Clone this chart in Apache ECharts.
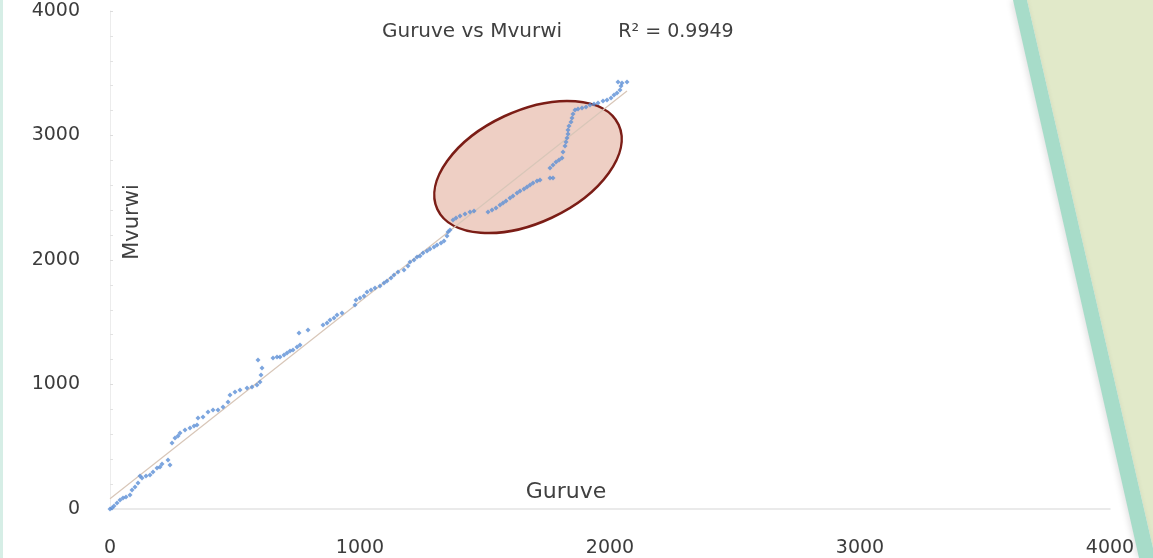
<!DOCTYPE html>
<html>
<head>
<meta charset="utf-8">
<title>Guruve vs Mvurwi</title>
<script src="https://cdn.jsdelivr.net/npm/echarts@6/dist/echarts.min.js"></script>
<style>
  html, body { margin: 0; padding: 0; background: #ffffff; }
  #chart { width: 1153px; height: 558px; }
</style>
</head>
<body>
<div id="chart"></div>
<script>
// Paired readings: Guruve (x) against Mvurwi (y)
const guruve = [
  0, 8, 16, 28, 40, 52, 64, 80, 88, 100, 112, 120, 128, 144, 160, 172, 188, 200, 208, 232,
  240, 248, 260, 272, 280, 300, 320, 336, 348, 352, 372, 392, 412, 432, 452, 472, 480, 500, 520, 548,
  568, 588, 600, 604, 592, 608, 652, 668, 680, 696, 708, 720, 732, 748, 760, 756, 792, 852, 868, 880,
  896, 908, 928, 980, 984, 1000, 1016, 1028, 1044, 1060, 1080, 1096, 1108, 1124, 1136, 1152, 1176, 1192, 1200, 1216,
  1228, 1240, 1252, 1268, 1280, 1296, 1308, 1324, 1336, 1348, 1352, 1360, 1372, 1384, 1400, 1420, 1440, 1456, 1512, 1528,
  1544, 1560, 1572, 1584, 1600, 1612, 1628, 1640, 1656, 1668, 1680, 1692, 1708, 1720, 1760, 1772, 1760, 1772, 1784, 1796,
  1808, 1812, 1820, 1824, 1828, 1832, 1832, 1836, 1844, 1848, 1852, 1860, 1872, 1888, 1904, 1920, 1936, 1952, 1972, 1988,
  2004, 2016, 2028, 2040, 2044, 2032, 2048, 2068
];
const mvurwi = [
  0, 8, 24, 48, 72, 88, 96, 112, 153, 177, 209, 265, 249, 265, 273, 297, 329, 337, 361, 394,
  353, 530, 570, 586, 610, 635, 651, 667, 675, 731, 739, 779, 795, 795, 819, 859, 916, 940, 956, 972,
  980, 996, 1020, 1076, 1197, 1133, 1213, 1221, 1221, 1237, 1253, 1269, 1277, 1301, 1317, 1414, 1438, 1478, 1494, 1518,
  1534, 1558, 1574, 1639, 1679, 1695, 1711, 1743, 1759, 1775, 1791, 1815, 1831, 1855, 1880, 1904, 1920, 1952, 1984, 2000,
  2024, 2032, 2056, 2072, 2088, 2104, 2120, 2137, 2153, 2193, 2225, 2241, 2321, 2337, 2353, 2369, 2385, 2393, 2385, 2402,
  2418, 2442, 2458, 2474, 2498, 2514, 2538, 2554, 2570, 2586, 2602, 2618, 2634, 2642, 2659, 2659, 2739, 2763, 2787, 2803,
  2819, 2867, 2916, 2948, 2980, 3012, 3044, 3076, 3108, 3141, 3173, 3205, 3213, 3221, 3229, 3245, 3253, 3261, 3277, 3285,
  3301, 3325, 3341, 3365, 3398, 3430, 3422, 3430
];
const xTicks = [0, 1000, 2000, 3000, 4000];
const yTicks = [0, 1000, 2000, 3000, 4000];
const chartTitle = 'Guruve vs Mvurwi';
const rSquaredText = 'R\u00B2 = 0.9949';
const xName = 'Guruve';
const yName = 'Mvurwi';
// Highlighted region of the scatter (centre in data units)
const highlightCentre = [1672, 2747];

const points = guruve.map((g, i) => [g, mvurwi[i]]);

// Least-squares linear trend through the points
const n = guruve.length;
const mx = guruve.reduce((a, b) => a + b, 0) / n;
const my = mvurwi.reduce((a, b) => a + b, 0) / n;
let sxy = 0, sxx = 0;
for (let i = 0; i < n; i++) {
  sxy += (guruve[i] - mx) * (mvurwi[i] - my);
  sxx += (guruve[i] - mx) * (guruve[i] - mx);
}
const slope = sxy / sxx;
const intercept = my - slope * mx;
const xMaxData = Math.max(...guruve);
const trend = [[0, intercept], [xMaxData, intercept + slope * xMaxData]];

const FONT = '"DejaVu Sans", "Open Sans", sans-serif';
const plain = v => String(v);
const chart = echarts.init(document.getElementById('chart'), null, { renderer: 'canvas' });

const option = {
  backgroundColor: '#ffffff',
  animation: false,
  grid: { left: 110, right: 43, top: 11, bottom: 49 },
  xAxis: {
    type: 'value',
    min: xTicks[0],
    max: xTicks[xTicks.length - 1],
    interval: 1000,
    axisLine: { show: true, lineStyle: { color: '#e3e3e3', width: 1.5 } },
    axisTick: { show: false },
    splitLine: { show: false },
    axisLabel: { margin: 30, fontFamily: FONT, fontSize: 19, color: '#3c3c3c', formatter: plain }
  },
  yAxis: {
    type: 'value',
    min: yTicks[0],
    max: yTicks[yTicks.length - 1],
    interval: 1000,
    axisLine: { show: true, lineStyle: { color: '#ececec', width: 1 } },
    axisTick: { show: true, length: 3, inside: true, lineStyle: { color: '#dcdcdc' } },
    minorTick: { show: true, splitNumber: 5, length: 3, lineStyle: { color: '#e2e2e2' } },
    splitLine: { show: false },
    axisLabel: { margin: 30, fontFamily: FONT, fontSize: 19, color: '#3c3c3c', formatter: plain }
  },
  series: [
    {
      type: 'line',
      data: trend,
      symbol: 'none',
      silent: true,
      z: 2,
      lineStyle: { color: '#d8c6b8', width: 1.2 }
    },
    {
      type: 'scatter',
      data: points,
      symbol: 'diamond',
      symbolSize: 5,
      z: 3,
      itemStyle: { color: '#5b8ed6' }
    }
  ]
};
chart.setOption(option);

// Annotation and page decoration
const centre = chart.convertToPixel({ gridIndex: 0 }, highlightCentre);
chart.setOption({
  graphic: [
    {
      type: 'rect',
      z: 0,
      shape: { x: 0, y: 0, width: 3, height: 558 },
      style: { fill: '#d6eee6' }
    },
    {
      type: 'ellipse',
      z: 1,
      x: centre[0],
      y: centre[1],
      rotation: 25 * Math.PI / 180,
      shape: { cx: 0, cy: 0, rx: 100, ry: 56 },
      style: { fill: 'rgba(214,140,115,0.42)', stroke: '#7b1d16', lineWidth: 2.5 }
    },
    {
      type: 'polygon',
      z: 20,
      shape: { points: [[1027, 0], [1153, 0], [1153, 548]] },
      style: { fill: '#e1e9c9' }
    },
    {
      type: 'polygon',
      z: 21,
      shape: { points: [[1013, 0], [1027, 0], [1153, 548], [1153, 558], [1139, 558]] },
      style: {
        fill: '#a7dcc9',
        shadowBlur: 6,
        shadowOffsetX: -2,
        shadowColor: 'rgba(0,0,0,0.12)'
      }
    },
    {
      type: 'text',
      z: 30,
      x: 472,
      y: 32,
      style: {
        text: chartTitle,
        font: '20px ' + FONT,
        fill: '#404040',
        align: 'center',
        verticalAlign: 'middle'
      }
    },
    {
      type: 'text',
      z: 30,
      x: 676,
      y: 32,
      style: {
        text: rSquaredText,
        font: '19px ' + FONT,
        fill: '#404040',
        align: 'center',
        verticalAlign: 'middle'
      }
    },
    {
      type: 'text',
      z: 30,
      x: 566,
      y: 492,
      style: {
        text: xName,
        font: '22px ' + FONT,
        fill: '#404040',
        align: 'center',
        verticalAlign: 'middle'
      }
    },
    {
      type: 'text',
      z: 30,
      x: 133,
      y: 222,
      rotation: Math.PI / 2,
      style: {
        text: yName,
        font: '21px ' + FONT,
        fill: '#404040',
        align: 'center',
        verticalAlign: 'middle'
      }
    }
  ]
});
</script>
</body>
</html>
